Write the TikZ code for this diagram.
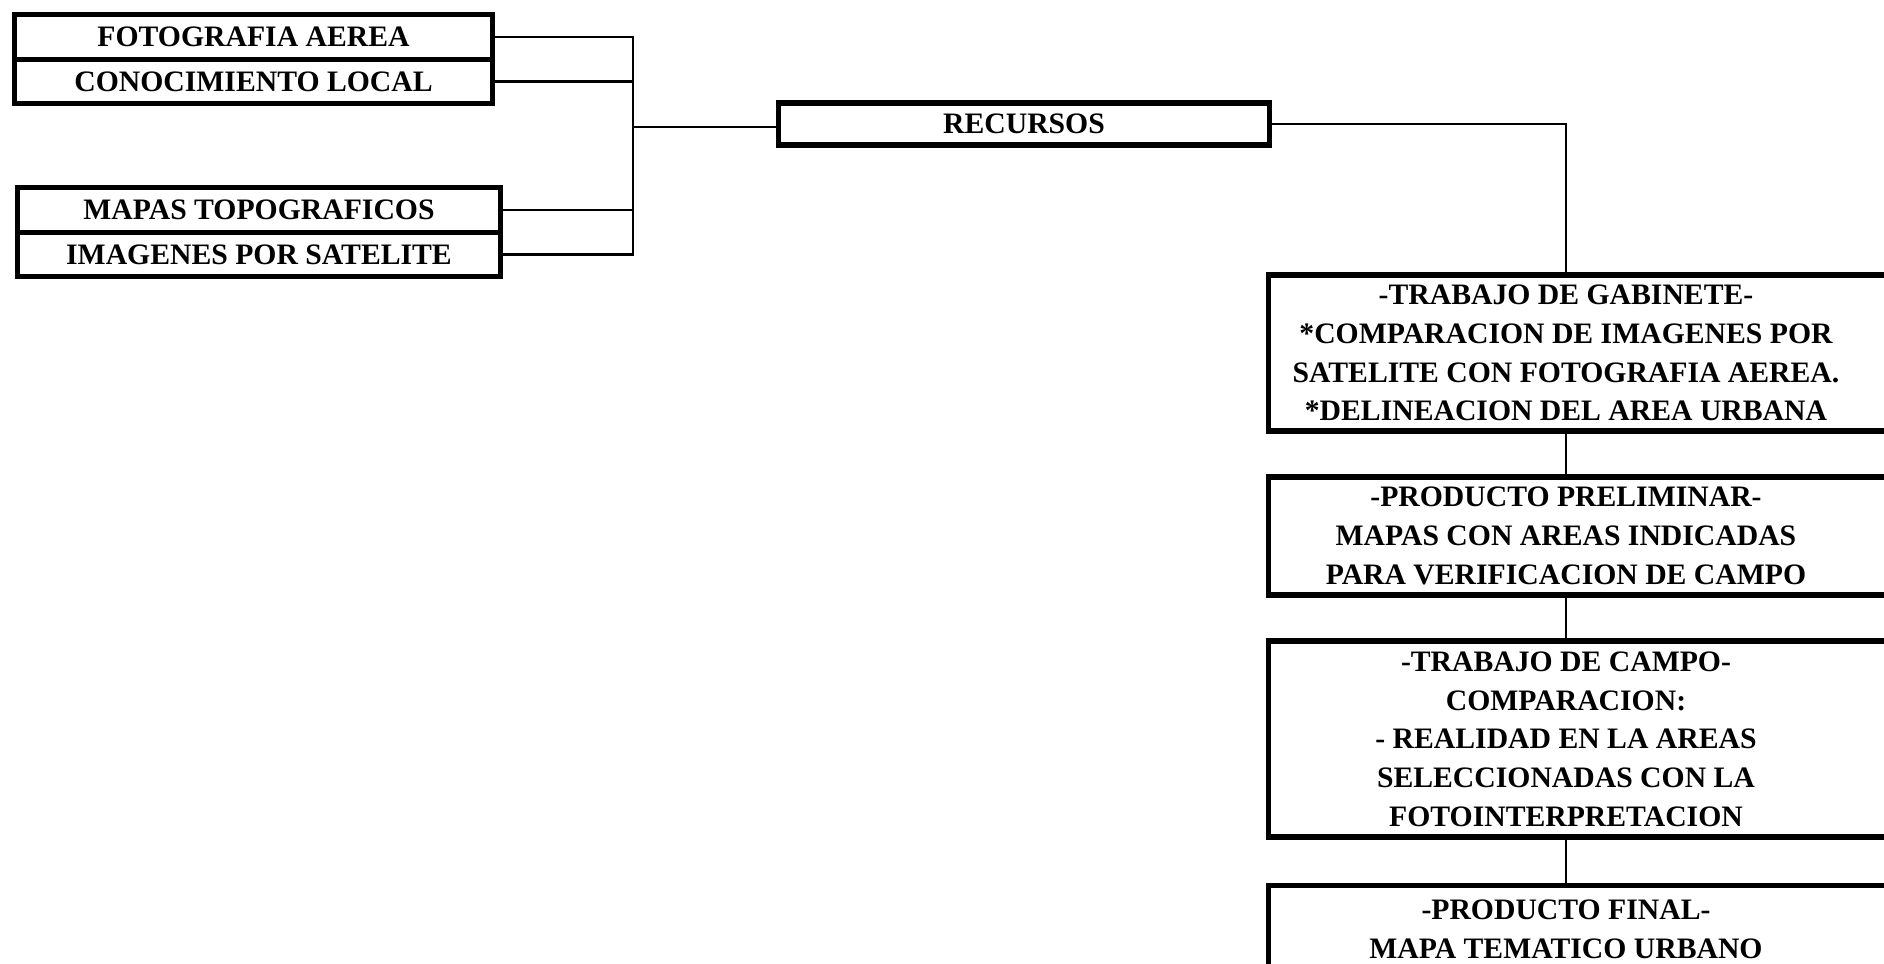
\documentclass[tikz,border=0pt]{standalone}
\usepackage{fontspec}
\setmainfont{Liberation Serif}
\usetikzlibrary{positioning}

\definecolor{inkBlack}{HTML}{000000}

\tikzset{
  rowbox/.style={draw=inkBlack, line width=1.5pt, outer sep=0pt, inner sep=0pt,
    minimum height=0.445cm, align=center},
  recbox/.style={draw=inkBlack, line width=1.5pt, inner sep=0pt,
    minimum width=4.91cm, minimum height=0.418cm},
  stagebox/.style={align=center, inner sep=0pt, minimum width=5.93cm},
  frame/.style={draw=inkBlack, line width=1.5pt, line join=miter},
  wire/.style={draw=inkBlack, line width=0.6pt}
}

\providecommand{\stageframe}[1]{%
  \draw[frame] ([xshift=1cm]#1.north east) -| (#1.south west)
    -- ([xshift=1cm]#1.south east);
}

\begin{document}
\begin{tikzpicture}[font=\bfseries\fontsize{8.45}{11}\selectfont]

  \useasboundingbox (0,0) rectangle (18.84,-9.63);
  \clip (0,0) rectangle (18.84,-9.63);

  % --------------------------------------------------------------------------
  % Left: the four sources, in two stacked pairs
  % --------------------------------------------------------------------------
  \node[rowbox, minimum width=4.78cm] (fot) at (2.535,-0.37) {FOTOGRAFIA AEREA};
  \node[rowbox, minimum width=4.78cm, below=0pt of fot] (con) {CONOCIMIENTO LOCAL};

  \node[rowbox, minimum width=4.83cm] (map) at (2.59,-2.10) {MAPAS TOPOGRAFICOS};
  \node[rowbox, minimum width=4.83cm, below=0pt of map] (ima) {IMAGENES POR SATELITE};

  \coordinate (jn) at (6.33,-1.27);

  \draw[wire] (fot.east) -| (jn);
  \draw[wire] (con.east) -| (jn);
  \draw[wire] (map.east) -| (jn);
  \draw[wire] (ima.east) -| (jn);

  % --------------------------------------------------------------------------
  % Middle: resources
  % --------------------------------------------------------------------------
  \node[recbox] (rec) at (10.24,-1.24) {RECURSOS};

  \draw[wire] (jn) -- (jn -| rec.west);

  % --------------------------------------------------------------------------
  % Right: the work stages (boxes run past the page edge)
  % --------------------------------------------------------------------------
  \node[stagebox, minimum height=1.548cm] (gab) at (15.66,-3.53)
    {-TRABAJO DE GABINETE-\\
     *COMPARACION DE IMAGENES POR\\
     SATELITE CON FOTOGRAFIA AEREA.\\
     *DELINEACION DEL AREA URBANA};

  \node[stagebox, minimum height=1.168cm] (pre) at (15.66,-5.36)
    {-PRODUCTO PRELIMINAR-\\
     MAPAS CON AREAS INDICADAS\\
     PARA VERIFICACION DE CAMPO};

  \node[stagebox, minimum height=1.948cm] (cam) at (15.66,-7.39)
    {-TRABAJO DE CAMPO-\\
     COMPARACION:\\
     - REALIDAD EN LA AREAS\\
     SELECCIONADAS CON LA\\
     FOTOINTERPRETACION};

  \node[stagebox, minimum height=0.86cm, anchor=north] (fin) at (15.66,-8.856)
    {-PRODUCTO FINAL-\\
     MAPA TEMATICO URBANO};

  \stageframe{gab}
  \stageframe{pre}
  \stageframe{cam}
  \stageframe{fin}

  \draw[wire] (rec.east) -| (gab.north);
  \draw[wire] (gab) -- (pre);
  \draw[wire] (pre) -- (cam);
  \draw[wire] (cam) -- (fin);

\end{tikzpicture}
\end{document}
